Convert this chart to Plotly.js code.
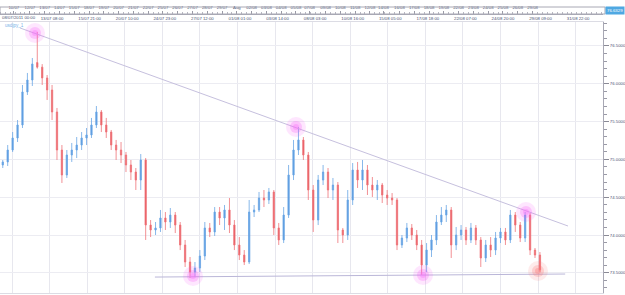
<!DOCTYPE html>
<html><head><meta charset="utf-8">
<script src="https://cdn.plot.ly/plotly-3.0.1.min.js"></script>
<style>html,body{margin:0;padding:0;background:#fff}#chart{width:625px;height:295px}</style>
</head><body><div id="chart"></div>
<script>
// ---- data (8-hour candles) ----
const open = [74.926,74.966,75.124,75.283,75.455,75.892,76.050,76.280,76.220,76.077,
75.918,75.627,75.124,74.794,75.058,75.124,75.190,75.283,75.323,75.455,
75.627,75.455,75.362,75.190,75.124,75.058,74.926,74.833,74.727,74.992,
74.132,74.066,74.093,74.225,74.172,74.264,74.132,73.868,73.643,73.510,
73.563,73.722,74.093,74.040,74.304,74.225,74.331,74.132,73.868,73.735,
73.643,74.304,74.331,74.489,74.463,74.569,74.093,73.934,74.264,74.794,
75.124,75.257,75.058,74.595,74.198,74.727,74.833,74.595,74.661,74.066,
74.000,74.463,74.860,74.727,74.860,74.661,74.595,74.661,74.529,74.489,
74.463,73.868,73.960,74.093,74.000,73.868,73.603,73.801,73.934,74.172,
74.264,74.331,73.868,74.000,74.066,73.934,74.093,73.934,73.696,73.868,
73.801,73.960,74.040,73.934,74.264,74.132,73.960,74.264,73.801,73.735];
const high = [74.992,75.190,75.362,75.521,75.984,76.143,76.341,76.685,76.260,76.116,
75.984,75.680,75.190,75.124,75.217,75.296,75.362,75.415,75.548,75.706,
75.653,75.548,75.389,75.257,75.230,75.098,74.992,74.886,75.071,75.018,
74.198,74.172,74.331,74.304,74.357,74.304,74.172,73.934,73.709,73.643,
73.801,74.172,74.159,74.370,74.370,74.397,74.489,74.198,73.973,73.801,
74.463,74.397,74.569,74.595,74.622,74.595,74.159,74.370,74.926,75.257,
75.429,75.296,75.098,74.661,74.794,74.926,74.886,74.754,74.701,74.093,
74.595,74.952,74.966,74.992,74.926,74.767,74.727,74.688,74.595,74.555,
74.489,74.000,74.159,74.145,74.066,73.934,73.894,74.000,74.264,74.370,
74.397,74.370,74.106,74.132,74.106,74.159,74.132,73.973,73.934,73.973,
74.040,74.093,74.093,74.331,74.304,74.172,74.304,74.291,73.828,73.775];
const low = [74.886,74.913,75.098,75.230,75.415,75.852,75.971,76.200,75.984,75.786,
75.521,74.992,74.688,74.754,74.966,75.018,75.124,75.190,75.283,75.415,
75.362,75.283,75.124,74.992,74.952,74.833,74.727,74.595,74.595,73.934,
73.973,74.000,74.040,74.066,74.093,74.026,73.801,73.577,73.431,73.444,
73.510,73.669,73.973,73.987,74.132,74.066,74.026,73.801,73.669,73.603,
73.616,74.238,74.304,74.370,74.410,74.000,73.868,73.894,74.225,74.727,
75.058,74.992,74.463,74.040,74.132,74.661,74.489,74.463,73.894,73.894,
73.934,74.397,74.622,74.595,74.529,74.503,74.463,74.423,74.397,74.397,
73.801,73.828,73.907,73.934,73.801,73.471,73.510,73.709,73.868,74.132,
74.172,73.696,73.801,73.934,73.868,73.894,73.868,73.577,73.643,73.709,
73.735,73.894,73.868,73.894,74.040,73.907,73.907,73.735,73.696,73.510];
const close = [74.966,75.124,75.283,75.455,75.892,76.050,76.262,76.220,76.077,75.918,
75.627,75.124,74.794,75.058,75.124,75.190,75.283,75.323,75.455,75.627,
75.455,75.362,75.190,75.124,75.058,74.926,74.833,74.727,74.992,74.132,
74.066,74.093,74.225,74.172,74.264,74.132,73.868,73.643,73.510,73.563,
73.722,74.093,74.040,74.304,74.225,74.331,74.132,73.868,73.735,73.643,
74.304,74.331,74.489,74.463,74.569,74.093,73.934,74.264,74.794,75.124,
75.257,75.058,74.595,74.198,74.727,74.833,74.595,74.661,74.066,74.000,
74.463,74.860,74.727,74.860,74.661,74.595,74.661,74.529,74.489,74.463,
73.868,73.960,74.093,74.000,73.868,73.603,73.801,73.934,74.172,74.264,
74.331,73.868,74.000,74.066,73.934,74.093,73.934,73.696,73.868,73.801,
73.960,74.040,73.934,74.264,74.132,73.960,74.264,73.801,73.735,73.537];
const candleHours = 8;               // each candle covers 8 trading hours

// trend lines (x in trading hours from 08/07/2011 00:00, y = price)
const resistX = [32, 921.6], resistY = [76.738, 74.119];
const supportX = [251, 917], supportY = [73.444, 73.484];
// highlighted points
const glowX = [56.3, 480, 312.8, 686.2, 853.4, 872.9];
const glowY = [76.672, 75.429, 73.458, 73.471, 74.304, 73.524];

// axis labels
const dayLabelText = ['10/07','12/07','13/07','14/07','15/07','18/07','19/07','20/07','21/07','22/07','25/07','26/07','27/07','28/07','29/07','Aug','02/08','03/08','04/08','05/08','07/08','09/08','10/08','11/08','12/08','14/08','16/08','17/08','18/08','19/08','22/08','23/08','24/08','25/08','26/08','29/08'];
const dayLabelDate = ['10/07','12/07','13/07','14/07','15/07','18/07','19/07','20/07','21/07','22/07','25/07','26/07','27/07','28/07','29/07','01/08','02/08','03/08','04/08','05/08','07/08','09/08','10/08','11/08','12/08','14/08','16/08','17/08','18/08','19/08','22/08','23/08','24/08','25/08','26/08','29/08'];
const firstTimeLabel = '08/07/2011 00:00';
const timeLabels = ['13/07 08:00','15/07 21:00','20/07 10:00','24/07 23:00','27/07 12:00','01/08 01:00','03/08 14:00','08/08 03:00','10/08 16:00','15/08 05:00','17/08 18:00','22/08 07:00','24/08 20:00','29/08 09:00','31/08 22:00'];
const priceTicks = [73.5,74.0,74.5,75.0,75.5,76.0,76.5];
const seriesName = 'usdjpy_1';
const tagText = '76.6329';

// ---- trading-hour scale (market closed Fri 22:00 -> Sun 22:00) ----
const START = Date.UTC(2011,6,8,0);
function tradingHours(d, m, hh) {
  const end = Date.UTC(2011, m-1, d, hh);
  let n = 0;
  for (let t = START; t < end; t += 3600000) {
    const dt = new Date(t), wd = dt.getUTCDay(), h = dt.getUTCHours();
    const closed = (wd===5 && h>=22) || wd===6 || (wd===0 && h<22);
    if (!closed) n++;
  }
  return n;
}
function dayPos(s) {
  const [d,m] = s.split('/').map(Number);
  const wd = new Date(Date.UTC(2011,m-1,d)).getUTCDay();
  return tradingHours(d, m, wd===0 ? 22 : 0);
}
function timePos(s) {
  const [dm, hm] = s.split(' ');
  const [d,m] = dm.split('/').map(Number);
  return tradingHours(d, m, Number(hm.split(':')[0]));
}

const xs = open.map((_, i) => i*candleHours + candleHours/2);
const XR = [-0.5, 978.4];
const H = 293;                        // plotting height (px) for paper fractions
const txt = '#4a5272';
const FS = 4.3;
const FONT = 'Liberation Sans, Arial, sans-serif';

const traces = [
  {type:'scatter', mode:'lines', x:resistX, y:resistY, line:{color:'#c6c0de', width:1}, hoverinfo:'skip'},
  {type:'scatter', mode:'lines', x:supportX, y:supportY, line:{color:'#bab6d8', width:1}, hoverinfo:'skip'},
  {type:'candlestick', x:xs, open:open, high:high, low:low, close:close,
   increasing:{line:{color:'#6aa6e4', width:0.8}, fillcolor:'#5a9ae0'},
   decreasing:{line:{color:'#ef7378', width:0.8}, fillcolor:'#e8565c'},
   whiskerwidth:0, hoverinfo:'skip'},
  {type:'scatter', mode:'markers', x:glowX, y:glowY, hoverinfo:'skip',
   marker:{size:20, color:['rgba(245,80,245,0.14)','rgba(245,80,245,0.14)','rgba(245,80,245,0.14)','rgba(245,80,245,0.14)','rgba(245,80,245,0.14)','rgba(250,110,110,0.14)'], line:{width:0}}},
  {type:'scatter', mode:'markers', x:glowX, y:glowY, hoverinfo:'skip',
   marker:{size:12, color:['rgba(245,80,245,0.24)','rgba(245,80,245,0.24)','rgba(245,80,245,0.24)','rgba(245,80,245,0.24)','rgba(245,80,245,0.24)','rgba(250,110,110,0.24)'], line:{width:0}}},
  {type:'scatter', mode:'markers', x:glowX, y:glowY, hoverinfo:'skip',
   marker:{size:6, color:['rgba(250,120,250,0.4)','rgba(250,120,250,0.4)','rgba(250,120,250,0.4)','rgba(250,120,250,0.4)','rgba(250,120,250,0.4)','rgba(250,130,130,0.4)'], line:{width:0}}},
  {type:'scatter', mode:'markers', x:[0], y:[74], xaxis:'x2', marker:{opacity:0}, hoverinfo:'skip'},
  {type:'scatter', mode:'markers', x:[0], y:[74], xaxis:'x3', marker:{opacity:0}, hoverinfo:'skip'}
];

const layout = {
  width:625, height:295,
  margin:{l:0, r:22, t:0, b:2, pad:0},
  paper_bgcolor:'#ffffff', plot_bgcolor:'#ffffff',
  showlegend:false, dragmode:false, boxgap:0.62,
  font:{family:FONT, size:FS, color:txt},
  xaxis:{domain:[0,1], range:XR, side:'top', anchor:'y', tickmode:'linear', tick0:19, dtick:61,
    showticklabels:false, ticks:'', showgrid:true, gridcolor:'#e7e7ee', gridwidth:1,
    showline:true, linecolor:'#dcdce4', mirror:true, zeroline:false, rangeslider:{visible:false}},
  xaxis2:{overlaying:'x', anchor:'y', side:'top', range:XR, tickmode:'array',
    tickvals:timeLabels.map(s => timePos(s) + 4), ticktext:timeLabels,
    showgrid:false, ticks:'', showline:false, zeroline:false,
    tickfont:{family:FONT, size:FS, color:txt}},
  xaxis3:{overlaying:'x', anchor:'free', position:(H-14)/H, side:'top', range:XR, tickmode:'array',
    tickvals:dayLabelDate.map(dayPos), ticktext:dayLabelText,
    ticks:'outside', ticklen:3, tickcolor:'#9a9aa6', tickwidth:1,
    minor:{tickmode:'linear', tick0:0, dtick:8, ticks:'outside', ticklen:2, tickcolor:'#b8b8c2', showgrid:false},
    showline:true, linecolor:'#a8a8b4', showgrid:false, zeroline:false,
    tickfont:{family:FONT, size:FS, color:txt}},
  yaxis:{domain:[0,(H-22)/H], side:'right', range:[73.233,76.817], tickmode:'array', tickvals:priceTicks,
    tickformat:'.4f', ticks:'outside', ticklen:5, tickcolor:'#8a8a96', tickwidth:1,
    minor:{tickmode:'linear', tick0:73.5, dtick:0.1, ticks:'outside', ticklen:3, tickcolor:'#9a9aa6', showgrid:false},
    showline:true, linecolor:'#a8a8b4', showgrid:true, gridcolor:'#ececf2', zeroline:false,
    tickfont:{family:FONT, size:FS, color:txt}},
  shapes:[
    {type:'rect', xref:'paper', yref:'paper', x0:0, x1:605/603, y0:(H-14)/H, y1:(H-7)/H,
     line:{color:'#a8a8b4', width:1}, fillcolor:'rgba(0,0,0,0)'}
  ],
  annotations:[
    {xref:'paper', yref:'paper', x:0, y:(H-17.5)/H, xanchor:'left', yanchor:'middle', showarrow:false,
     text:firstTimeLabel, font:{family:FONT, size:FS, color:txt}},
    {xref:'paper', yref:'paper', x:3/603, y:(H-25)/H, xanchor:'left', yanchor:'middle', showarrow:false,
     text:seriesName, font:{family:FONT, size:4.6, color:'#7cb2e8'}},
    {xref:'paper', yref:'paper', x:605/603, y:(H-10.5)/H, xanchor:'left', yanchor:'middle', showarrow:false,
     text:tagText, bgcolor:'#4fa8e2', borderpad:1, font:{family:FONT, size:FS, color:'#ffffff'}}
  ]
};

Plotly.newPlot('chart', traces, layout, {staticPlot:true, displayModeBar:false});
</script>
</body></html>
